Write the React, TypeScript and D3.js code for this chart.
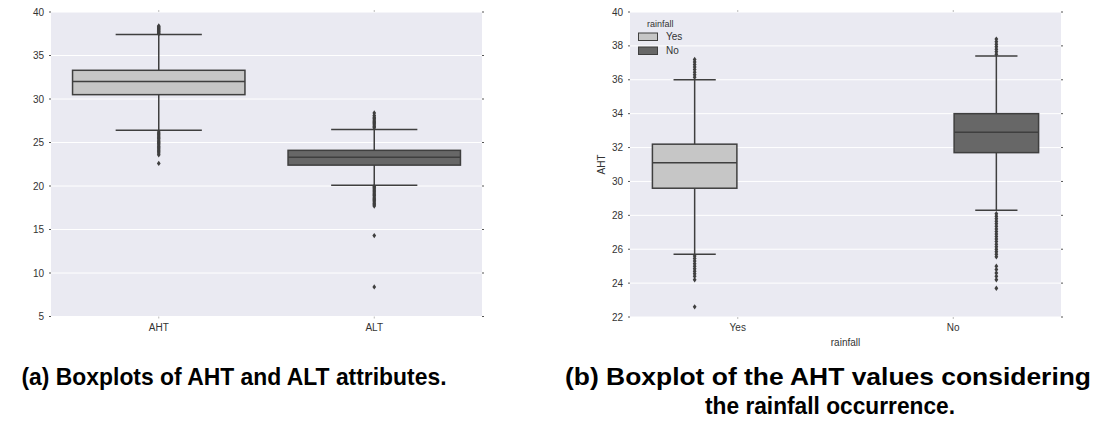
import React from "react";
import * as d3 from "d3";

// ---- panel (a): AHT / ALT ----
const attrs = ["AHT", "ALT"];
const attrQ1 = [30.5, 22.4];
const attrMedian = [32.0, 23.3];
const attrQ3 = [33.3, 24.1];
const attrLow = [26.4, 20.1];
const attrHigh = [37.4, 26.5];
const attrOutliers = [
  [37.5, 37.6, 37.7, 37.8, 37.9, 38.0, 38.1, 38.2, 38.3, 38.4,
   26.2, 26.05, 25.9, 25.75, 25.6, 25.45, 25.3, 25.15, 25.0, 24.85, 24.7, 24.55, 24.4, 24.25, 24.1, 23.95, 23.8, 23.6, 22.6],
  [26.7, 26.85, 27.0, 27.15, 27.3, 27.45, 27.6, 27.75, 27.9, 28.1, 28.4,
   19.95, 19.8, 19.65, 19.5, 19.35, 19.2, 19.05, 18.9, 18.75, 18.6, 18.45, 18.3, 18.15, 18.0, 17.85, 17.7, 14.3, 8.4],
];
const attrTicks = [5, 10, 15, 20, 25, 30, 35, 40];

// ---- panel (b): AHT by rainfall ----
const rain = ["Yes", "No"];
const rainQ1 = [29.6, 31.7];
const rainMedian = [31.1, 32.9];
const rainQ3 = [32.2, 34.0];
const rainLow = [25.7, 28.3];
const rainHigh = [36.0, 37.4];
const rainOutliers = [
  [36.15, 36.3, 36.45, 36.6, 36.75, 36.9, 37.05, 37.2,
   25.6, 25.45, 25.3, 25.15, 25.0, 24.85, 24.7, 24.55, 24.4, 24.2, 22.6],
  [37.5, 37.65, 37.8, 37.95, 38.1, 38.25, 38.4,
   28.1, 27.95, 27.8, 27.65, 27.5, 27.35, 27.2, 27.05, 26.9, 26.75, 26.6, 26.45, 26.3,
   26.15, 26.0, 25.85, 25.7, 25.55, 25.0, 24.8, 24.6, 24.4, 24.2, 23.7],
];
const rainTicks = [22, 24, 26, 28, 30, 32, 34, 36, 38, 40];

const fills = ["#c6c6c6", "#676767"];
const edge = "#3f3f3f";
const bg = "#eaeaf2";
const font = "'Liberation Sans', Arial, sans-serif";
const diamond = "M0,-2.7L1.9,0L0,2.7L-1.9,0Z";

type BoxProps = { cx: number; w: number; q1: number; med: number; q3: number; lo: number; hi: number; out: number[]; fill: string; y: d3.ScaleLinear<number, number> };

function Box({ cx, w, q1, med, q3, lo, hi, out, fill, y }: BoxProps) {
  return (
    <g stroke={edge} strokeWidth={1.5}>
      <line x1={cx} x2={cx} y1={y(q3)} y2={y(hi)} />
      <line x1={cx} x2={cx} y1={y(q1)} y2={y(lo)} />
      <line x1={cx - w / 4} x2={cx + w / 4} y1={y(hi)} y2={y(hi)} />
      <line x1={cx - w / 4} x2={cx + w / 4} y1={y(lo)} y2={y(lo)} />
      <rect x={cx - w / 2} y={y(q3)} width={w} height={y(q1) - y(q3)} fill={fill} />
      <line x1={cx - w / 2} x2={cx + w / 2} y1={y(med)} y2={y(med)} />
      {out.map((v, i) => (
        <path key={i} d={diamond} transform={`translate(${cx},${y(v)})`} fill={edge} stroke="none" />
      ))}
    </g>
  );
}

type FrameProps = { x0: number; x1: number; y: d3.ScaleLinear<number, number>; ticks: number[]; x: d3.ScaleBand<string>; labelEnd: number };

function Frame({ x0, x1, y, ticks, x, labelEnd }: FrameProps) {
  const [yb, yt] = y.range();
  return (
    <g>
      <rect x={x0} y={yt} width={x1 - x0} height={yb - yt} fill={bg} />
      {ticks.map((t) => (
        <g key={t}>
          <line x1={x0} x2={x1} y1={y(t)} y2={y(t)} stroke="#fff" strokeWidth={1} />
          <line x1={x0 - 2} x2={x0} y1={y(t)} y2={y(t)} stroke="#555" strokeWidth={1} />
          <line x1={x1} x2={x1 + 2} y1={y(t)} y2={y(t)} stroke="#555" strokeWidth={1} />
          <text x={labelEnd} y={y(t)} dy="0.35em" textAnchor="end" fontSize={10} fill="#333" fontFamily={font}>{t}</text>
        </g>
      ))}
      {x.domain().map((c) => {
        const cx = (x(c) ?? 0) + x.bandwidth() / 2;
        return (
          <g key={c}>
            <line x1={cx} x2={cx} y1={yt - 2} y2={yt} stroke="#bbb" />
            <line x1={cx} x2={cx} y1={yb} y2={yb + 2} stroke="#bbb" />
            <text x={cx} y={yb + 14} textAnchor="middle" fontSize={10} fill="#333" fontFamily={font}>{c}</text>
          </g>
        );
      })}
    </g>
  );
}

export default function App() {
  const top = 12;
  const yA = d3.scaleLinear().domain([5, 40]).range([316.5, top]);
  const xA = d3.scaleBand<string>().domain(attrs).range([51, 482]).padding(0);
  const wA = xA.bandwidth() * 0.8;

  const yB = d3.scaleLinear().domain([22, 40]).range([317, top]);
  const xB = d3.scaleBand<string>().domain(rain).range([630, 1061]).padding(0);
  const hue = d3.scaleBand<string>().domain(rain).range([-0.4 * xB.bandwidth(), 0.4 * xB.bandwidth()]);
  const wB = hue.bandwidth() * 0.98;

  return (
    <svg width={1108} height={426} style={{ position: "absolute", left: 0, top: 0, background: "#fff" }}>
      {/* panel a */}
      <Frame x0={51} x1={482} y={yA} ticks={attrTicks} x={xA} labelEnd={44} />
      {attrs.map((a, i) => (
        <Box key={a} cx={(xA(a) ?? 0) + xA.bandwidth() / 2} w={wA} q1={attrQ1[i]} med={attrMedian[i]} q3={attrQ3[i]}
          lo={attrLow[i]} hi={attrHigh[i]} out={attrOutliers[i]} fill={fills[i]} y={yA} />
      ))}

      {/* panel b */}
      <Frame x0={630} x1={1061} y={yB} ticks={rainTicks} x={xB} labelEnd={623} />
      {rain.map((r, i) => (
        <Box key={r} cx={(xB(r) ?? 0) + xB.bandwidth() / 2 + (hue(r) ?? 0) + hue.bandwidth() / 2} w={wB}
          q1={rainQ1[i]} med={rainMedian[i]} q3={rainQ3[i]} lo={rainLow[i]} hi={rainHigh[i]}
          out={rainOutliers[i]} fill={fills[i]} y={yB} />
      ))}
      <text transform="translate(605,164.5) rotate(-90)" textAnchor="middle" fontSize={10} fill="#333" fontFamily={font}>AHT</text>
      <text x={845.5} y={346} textAnchor="middle" fontSize={10} fill="#333" fontFamily={font}>rainfall</text>

      {/* legend */}
      <text x={647} y={27} fontSize={9} fill="#333" fontFamily={font}>rainfall</text>
      {rain.map((r, i) => (
        <g key={r}>
          <rect x={638.5} y={33 + i * 14} width={19} height={7.5} fill={fills[i]} stroke={edge} strokeWidth={1} />
          <text x={666} y={36.8 + i * 14} dy="0.35em" fontSize={10} fill="#333" fontFamily={font}>{r}</text>
        </g>
      ))}

      {/* captions */}
      <text x={234} y={385} textAnchor="middle" fontSize={24} fontWeight="bold" fontFamily={font}
        textLength={425} lengthAdjust="spacingAndGlyphs">(a) Boxplots of AHT and ALT attributes.</text>
      <text x={828} y={385} textAnchor="middle" fontSize={24} fontWeight="bold" fontFamily={font}
        textLength={526} lengthAdjust="spacingAndGlyphs">(b) Boxplot of the AHT values considering</text>
      <text x={830} y={414} textAnchor="middle" fontSize={24} fontWeight="bold" fontFamily={font}
        textLength={250} lengthAdjust="spacingAndGlyphs">the rainfall occurrence.</text>
    </svg>
  );
}
